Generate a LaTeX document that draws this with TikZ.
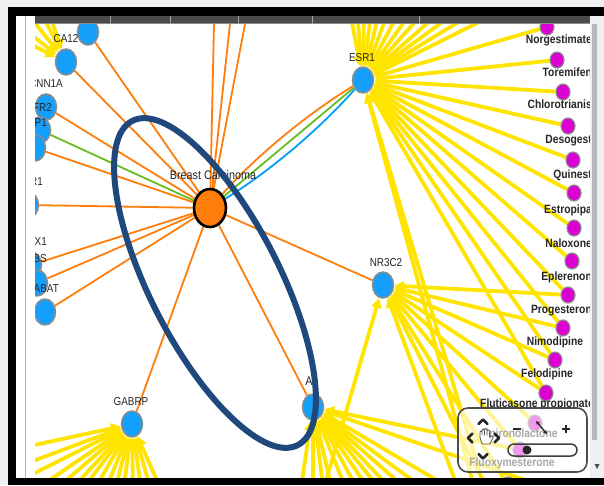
\documentclass[tikz,border=0pt]{standalone}
\usepackage{fontspec}
\setmainfont{Liberation Sans}
\newfontfamily\labfont[FakeStretch=0.86]{Liberation Sans}
\usetikzlibrary{shapes.geometric,arrows.meta,calc}
\definecolor{nodeblue}{RGB}{20,160,250}
\definecolor{nodemag}{RGB}{220,0,210}
\definecolor{edgeorange}{RGB}{255,125,10}
\definecolor{edgeyellow}{RGB}{255,228,0}
\definecolor{edgegreen}{RGB}{100,190,30}
\definecolor{edgeblue}{RGB}{0,160,250}
\definecolor{ringblue}{RGB}{31,73,125}
\definecolor{bordergray}{RGB}{140,140,140}
\definecolor{barbg}{RGB}{75,75,75}
\pgfdeclarelayer{bg}
\pgfdeclarelayer{edges}
\pgfsetlayers{bg,edges,main}
\begin{document}
\begin{tikzpicture}[x=1pt,y=-1pt,
  prot/.style={ellipse, fill=nodeblue, draw=bordergray, line width=1.5pt, minimum width=21pt, minimum height=26pt, inner sep=0pt},
  drug/.style={ellipse, fill=nodemag, draw=bordergray, line width=1.2pt, minimum width=14pt, minimum height=16pt, inner sep=0pt},
  dis/.style={ellipse, fill=edgeorange, draw=black, line width=2.6pt, minimum width=32pt, minimum height=38pt, inner sep=0pt},
  lab/.style={font=\labfont\fontsize{11.5}{12}\selectfont, text=black!85, inner sep=0pt, text height=8.2pt, text depth=0pt},
  dlab/.style={lab, font=\labfont\bfseries\fontsize{12}{13}\selectfont, text height=8.6pt},
  oedge/.style={draw=edgeorange, line width=1.8pt},
  yedge/.style={draw=edgeyellow, line width=3.8pt, -{Triangle[length=10pt,width=10pt]}},
]
\useasboundingbox (0,0) rectangle (604,485);
\begin{pgfonlayer}{bg}
\fill[white!94!black] (0,0) rectangle (604,485);
\fill[white] (16,16) rectangle (604,478);
\end{pgfonlayer}

% ---------------- nodes and labels ----------------
\begin{scope}
\clip (35,15) rectangle (590,478);
\node[prot] (CA12) at (88,32) {};
\node[prot] (CNN1A) at (66,62) {};
\node[prot] (FR2) at (46,107) {};
\node[prot] (P1a) at (40,130) {};
\node[prot] (P1) at (35,148) {};
\node[prot] (R1) at (28,205) {};
\node[prot] (X1) at (31,265) {};
\node[prot] (BS) at (37,283) {};
\node[prot] (ABAT) at (45,312) {};
\node[prot] (GABRP) at (132,424) {};
\node[prot] (A) at (313,407) {};
\node[prot] (NR3C2) at (383,285) {};
\node[prot] (ESR1) at (363,80) {};
\node[dis] (BC) at (210,208) {};

\node[drug] (Norg) at (547,27) {};
\node[drug] (Tore) at (557,60) {};
\node[drug] (Chlo) at (563,92) {};
\node[drug] (Deso) at (568,126) {};
\node[drug] (Quin) at (573,160) {};
\node[drug] (Estr) at (574,193) {};
\node[drug] (Nalo) at (574,228) {};
\node[drug] (Eple) at (572,261) {};
\node[drug] (Prog) at (568,295) {};
\node[drug] (Nimo) at (563,328) {};
\node[drug] (Felo) at (555,360) {};
\node[drug] (Flut) at (546,393) {};
\node[drug] (Spir) at (535,423) {};
\node[drug] (Fluo) at (520,450) {};
\node[drug] (Mlast) at (508,485) {};

\node[lab] at (66,38) {CA12};
\node[lab, anchor=east] at (63,83) {CNN1A};
\node[lab, anchor=east] at (52,107) {FR2};
\node[lab, anchor=east] at (47,122) {P1};
\node[lab, anchor=east] at (43,181) {R1};
\node[lab, anchor=east] at (47,241) {X1};
\node[lab, anchor=east] at (47,258) {BS};
\node[lab, anchor=east] at (59,288) {ABAT};
\node[lab] at (131,401) {GABRP};
\node[lab, font=\labfont\fontsize{12.5}{13}\selectfont] at (309,381) {A};
\node[lab] at (386,262) {NR3C2};
\node[lab] at (362,57) {ESR1};
\node[lab, font=\labfont\fontsize{12.5}{13}\selectfont, text height=9pt] at (213,175) {Breast Carcinoma};

\node[dlab, anchor=east] at (592,39) {Norgestimate};
\node[dlab, anchor=east] at (592,72) {Toremifen};
\node[dlab, anchor=east] at (592,104) {Chlorotrianis};
\node[dlab, anchor=east] at (592,139) {Desogest};
\node[dlab, anchor=east] at (592,174) {Quinest};
\node[dlab, anchor=east] at (592,209) {Estropipa};
\node[dlab, anchor=east] at (592,243) {Naloxone};
\node[dlab, anchor=east] at (592,276) {Eplerenon};
\node[dlab, anchor=east] at (592,309) {Progesteron};
\node[dlab] at (555,341) {Nimodipine};
\node[dlab] at (547,373) {Felodipine};
\node[dlab, anchor=west] at (480,403) {Fluticasone propionate};
\node[dlab] at (520,433) {Spironolactone};
\node[dlab] at (512,462) {Fluoxymesterone};
\end{scope}

% ---------------- connectors ----------------
\begin{pgfonlayer}{edges}
\clip (35,15) rectangle (590,478);
% yellow: ESR1
\foreach \x in {350,357,364,371,379,388,399,411,424,440,456,475,499}{
  \coordinate (et\x) at (\x,12);
  \draw[yedge] (et\x) -- (ESR1);
}
\foreach \d in {Norg,Tore,Chlo,Deso,Quin,Estr,Nalo,Eple,Prog,Nimo,Felo,Flut}{
  \draw[yedge] (\d) -- (ESR1);
}
\coordinate (eb1) at (476,494);
\coordinate (eb2) at (486,494);
\draw[yedge] (eb1) -- (ESR1);
\draw[yedge] (eb2) -- (ESR1);
% yellow: NR3C2
\foreach \d in {Prog,Nimo,Felo,Flut,Spir,Fluo,Mlast}{
  \draw[yedge] (\d) -- (NR3C2);
}
\foreach \x in {322,460,490}{
  \coordinate (nb\x) at (\x,494);
  \draw[yedge] (nb\x) -- (NR3C2);
}
% yellow: A
\foreach \x in {300,313,324,333,348,360,372,384,396,412,431,460}{
  \coordinate (ab\x) at (\x,494);
  \draw[yedge] (ab\x) -- (A);
}
\coordinate (ar1) at (560,492);
\draw[yedge] (Fluo) -- (A);
\draw[yedge] (ar1) -- (A);
% yellow: GABRP
\foreach \y in {447,464,478}{
  \coordinate (gl\y) at (25,\y);
  \draw[yedge] (gl\y) -- (GABRP);
}
\foreach \x in {29,50,67,79,92,104,114,123,133,142,152,163}{
  \coordinate (gb\x) at (\x,494);
  \draw[yedge] (gb\x) -- (GABRP);
}
% yellow: CNN1A, ABAT
\foreach \a/\b [count=\i] in {28/14,40/10,48/10,20/26,18/38}{
  \coordinate (cn\i) at (\a,\b);
  \draw[yedge] (cn\i) -- (CNN1A);
}
\coordinate (ab0) at (25,330);
\draw[yedge] (ab0) -- (ABAT);

% orange: Breast Carcinoma
\coordinate (bt1) at (214.3,10);
\coordinate (bt2) at (231.5,10);
\coordinate (bt3) at (247.7,10);
\foreach \n in {bt1,bt2,bt3,CA12,CNN1A,FR2,P1,R1,X1,BS,ABAT,GABRP,A,NR3C2}{
  \draw[oedge] (BC) -- (\n);
}
\draw[draw=edgegreen, line width=1.8pt] (BC) -- (P1a);
\draw[oedge] (BC) .. controls (254.6,157.6) and (305.6,115) .. (ESR1);
\draw[draw=edgegreen, line width=1.8pt] (BC) -- (ESR1);
\draw[draw=edgeblue, line width=1.8pt] (BC) .. controls (267.4,173) and (318.4,130.4) .. (ESR1);
\end{pgfonlayer}

% ---------------- highlight ellipse ----------------
\draw[ringblue, line width=6pt, rotate around={-63:(215,283)}] (215,283) ellipse [x radius=182, y radius=65];

% ---------------- navigation widget ----------------
\draw[draw=black!70, line width=1.6pt, fill=white, fill opacity=0.6, rounded corners=10pt] (458,408) rectangle (587,472);
\begin{scope}[line width=2.6pt, black!85, line cap=round, line join=round]
\draw (478.5,424) -- (483,419.5) -- (487.5,424);
\draw (478.5,454) -- (483,458.5) -- (487.5,454);
\draw (472.5,433.5) -- (468,438) -- (472.5,442.5);
\draw (494.5,433.5) -- (499,438) -- (494.5,442.5);
\end{scope}
\draw[black!65, line width=0.8pt, fill=white, fill opacity=0.8, rounded corners=1pt]
  (480,438) -- (480,431) -- (482,431) -- (482,436) -- (482,429) -- (484.5,429) -- (484.5,436)
  -- (484.5,428.5) -- (487,428.5) -- (487,436) -- (487,430) -- (489.5,430) -- (489.5,438)
  -- (491.5,435.5) -- (493.5,436.5) -- (490,444) -- (482,444) -- cycle;
\draw[black!85, line width=1.6pt] (513,429) -- (521,429);
\draw[black!85, line width=1.6pt] (562,429) -- (570,429) (566,425) -- (566,433);
\draw[black!85, line width=1.3pt, {Stealth[length=4pt,width=4pt]}-{Stealth[length=4pt,width=4pt]}] (536,421) -- (547,434);
\draw[black!75, line width=1.5pt, rounded corners=6pt] (508,444) rectangle (577,456);
\fill[black!85] (527,450) circle (4.5);

% ---------------- window frame ----------------
\fill[black] (8,7) rectangle (604,16);
\fill[black] (8,7) rectangle (16,485);
\fill[black] (8,478) rectangle (604,485);
\fill[barbg] (35,16) rectangle (590,24);
\draw[black!45, line width=1pt] (35,23.5) -- (590,23.5);
\foreach \x in {110,170,238,312,419}{
  \draw[black!35, line width=1pt] (\x,16) -- (\x,24);
}
\draw[black!30, line width=1.2pt] (25.5,16) -- (25.5,478);
\fill[black!6] (590,16) rectangle (604,478);
\fill[black!28] (592,24) rectangle (597,440);
\fill[black!70] (594.5,464) -- (599.5,464) -- (597,469) -- cycle;
\end{tikzpicture}
\end{document}
